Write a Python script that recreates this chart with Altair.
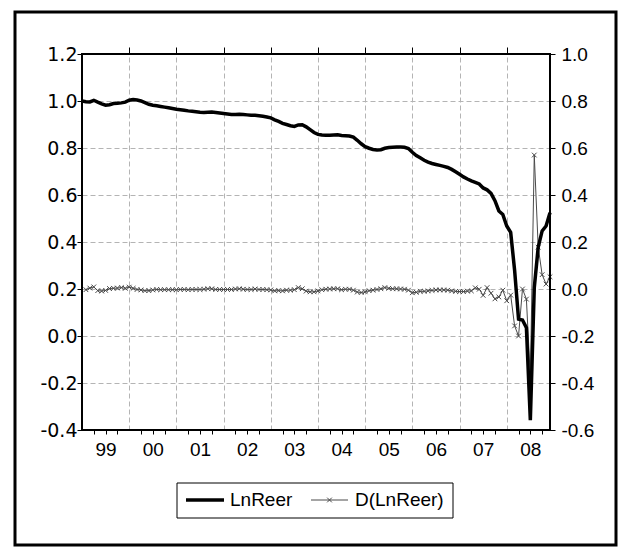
import altair as alt
import pandas as pd

# Monthly sample 1999M01 - 2008M12
year_labels = ["99", "00", "01", "02", "03", "04", "05", "06", "07", "08"]

lnreer_1999 = [1.000, 0.997, 0.996, 1.003, 0.995, 0.988, 0.982, 0.984, 0.989, 0.990, 0.992, 0.995]
lnreer_2000 = [1.003, 1.006, 1.004, 1.000, 0.993, 0.986, 0.982, 0.980, 0.977, 0.974, 0.971, 0.968]
lnreer_2001 = [0.965, 0.963, 0.961, 0.958, 0.956, 0.954, 0.952, 0.951, 0.952, 0.953, 0.951, 0.949]
lnreer_2002 = [0.947, 0.945, 0.943, 0.943, 0.944, 0.943, 0.941, 0.939, 0.939, 0.937, 0.935, 0.932]
lnreer_2003 = [0.928, 0.920, 0.913, 0.905, 0.900, 0.895, 0.892, 0.898, 0.899, 0.890, 0.878, 0.866]
lnreer_2004 = [0.858, 0.855, 0.854, 0.854, 0.855, 0.856, 0.853, 0.852, 0.851, 0.846, 0.833, 0.818]
lnreer_2005 = [0.806, 0.799, 0.794, 0.792, 0.793, 0.799, 0.802, 0.803, 0.804, 0.804, 0.803, 0.798]
lnreer_2006 = [0.782, 0.768, 0.758, 0.748, 0.740, 0.734, 0.730, 0.726, 0.722, 0.717, 0.709, 0.699]
lnreer_2007 = [0.688, 0.677, 0.668, 0.660, 0.654, 0.647, 0.630, 0.622, 0.607, 0.576, 0.532, 0.517]
lnreer_2008 = [0.468, 0.441, 0.280, 0.072, 0.068, 0.035, -0.358, 0.205, 0.378, 0.447, 0.468, 0.525]

d_1999 = [None, -0.003, 0.004, 0.009, -0.007, -0.009, -0.006, 0.002, 0.003, 0.004, 0.006, 0.003]
d_2000 = [0.008, 0.003, -0.002, -0.004, -0.007, -0.007, -0.004, -0.002, -0.003, -0.003, -0.003, -0.003]
d_2001 = [-0.003, -0.002, -0.002, -0.003, -0.002, -0.002, -0.002, -0.001, 0.001, 0.001, -0.002, -0.002]
d_2002 = [-0.002, -0.002, -0.002, 0.000, 0.001, -0.001, -0.002, -0.002, 0.000, -0.002, -0.002, -0.003]
d_2003 = [-0.004, -0.008, -0.007, -0.008, -0.005, -0.005, -0.003, 0.006, 0.001, -0.009, -0.012, -0.012]
d_2004 = [-0.008, -0.003, -0.001, 0.000, 0.001, 0.001, -0.003, -0.001, -0.001, -0.005, -0.013, -0.015]
d_2005 = [-0.012, -0.007, -0.005, -0.002, 0.001, 0.006, 0.003, 0.001, 0.001, 0.000, -0.001, -0.005]
d_2006 = [-0.016, -0.014, -0.010, -0.010, -0.008, -0.006, -0.004, -0.004, -0.004, -0.005, -0.008, -0.010]
d_2007 = [-0.011, -0.011, -0.009, -0.008, 0.005, -0.001, -0.027, 0.006, -0.018, -0.042, -0.034, -0.005]
d_2008 = [-0.050, -0.026, -0.157, -0.200, 0.000, -0.043, -0.377, 0.570, 0.178, 0.061, 0.021, 0.052]

lnreer = (lnreer_1999 + lnreer_2000 + lnreer_2001 + lnreer_2002 + lnreer_2003
          + lnreer_2004 + lnreer_2005 + lnreer_2006 + lnreer_2007 + lnreer_2008)
d_lnreer = (d_1999 + d_2000 + d_2001 + d_2002 + d_2003
            + d_2004 + d_2005 + d_2006 + d_2007 + d_2008)

df = pd.DataFrame({"m": list(range(len(lnreer))), "lnreer": lnreer, "d": d_lnreer})
one = pd.DataFrame({"k": [0]})

FONT = "Liberation Sans"
WIDE_FONT = "DejaVu Sans"
FS = 19
GRID = "#b4b4b4"
XMARK = "M-1,-1L1,1M-1,1L1,-1"
W, H = 468, 376

xscale = alt.Scale(domain=[0, 119], nice=False, zero=False)
label_expr = "datum.value < 0 ? '-' + format(-datum.value, '.1f') : format(datum.value, '.1f')"

# year boundaries: long ticks plus vertical grid
year_axis = alt.Axis(values=list(range(12, 120, 12)), labels=False, tickSize=7,
                     grid=True, gridColor=GRID, gridDash=[5, 3], title=None)
# quarter ticks, with year labels placed at mid-year
quarter_axis = alt.Axis(values=[q for q in range(3, 120, 3) if q % 12 != 0], tickSize=4,
                        grid=False, title=None, labelPadding=6,
                        labelExpr="datum.value % 12 == 6 ? " + str(year_labels) + "[floor(datum.value / 12)] : ''")

left_axis = alt.Axis(orient="left", values=[-0.4, -0.2, 0, 0.2, 0.4, 0.6, 0.8, 1.0, 1.2],
                     labelExpr=label_expr, tickSize=5, labelPadding=0,
                     labelFont=WIDE_FONT, labelFontSize=FS,
                     grid=True, gridColor=GRID, gridDash=[5, 3], title=None)
right_axis = alt.Axis(orient="right", values=[-0.6, -0.4, -0.2, 0, 0.2, 0.4, 0.6, 0.8, 1.0],
                      labelExpr=label_expr, tickSize=5, labelPadding=6, grid=False, title=None)

d_line = alt.Chart(df).mark_line(
    color="#4a4a4a", strokeWidth=1,
    point=alt.OverlayMarkDef(shape=XMARK, size=22, filled=False, stroke="#4a4a4a", strokeWidth=1),
).encode(
    x=alt.X("m:Q", scale=xscale, axis=quarter_axis),
    y=alt.Y("d:Q", scale=alt.Scale(domain=[-0.6, 1.0], nice=False, zero=False), axis=right_axis),
)

level_line = alt.Chart(df).mark_line(color="black", strokeWidth=3.5).encode(
    x=alt.X("m:Q", scale=xscale, axis=year_axis),
    y=alt.Y("lnreer:Q", scale=alt.Scale(domain=[-0.4, 1.2], nice=False, zero=False), axis=left_axis),
)

# plot-area border, drawn above the grid
plot_border = alt.Chart(one).mark_rect(fillOpacity=0, stroke="black", strokeWidth=2).encode(
    x=alt.value(0), x2=alt.value(W), y=alt.value(0), y2=alt.value(H))

# outer graph frame
frame = alt.Chart(one).mark_rect(fillOpacity=0, stroke="black", strokeWidth=3).encode(
    x=alt.value(-67), x2=alt.value(534), y=alt.value(-42), y2=alt.value(491))

# legend
leg_box = alt.Chart(one).mark_rect(fillOpacity=0, stroke="black", strokeWidth=1).encode(
    x=alt.value(95), x2=alt.value(371), y=alt.value(429), y2=alt.value(464))
leg_l1 = alt.Chart(one).mark_rule(color="black", strokeWidth=3.5).encode(
    x=alt.value(104), x2=alt.value(142), y=alt.value(446))
leg_t1 = alt.Chart(one).mark_text(align="left", baseline="middle", font=FONT, fontSize=FS,
                                  color="black").encode(
    x=alt.value(148), y=alt.value(446), text=alt.value("LnReer"))
leg_l2 = alt.Chart(one).mark_rule(color="#4a4a4a", strokeWidth=1).encode(
    x=alt.value(229), x2=alt.value(266), y=alt.value(446))
leg_p2 = alt.Chart(one).mark_point(shape=XMARK, size=22, filled=False, color="#4a4a4a",
                                   strokeWidth=1, opacity=1).encode(
    x=alt.value(247.5), y=alt.value(446))
leg_t2 = alt.Chart(one).mark_text(align="left", baseline="middle", font=FONT, fontSize=FS,
                                  color="black").encode(
    x=alt.value(273), y=alt.value(446), text=alt.value("D(LnReer)"))

chart = alt.layer(
    d_line, level_line, plot_border, frame, leg_box, leg_l1, leg_t1, leg_l2, leg_p2, leg_t2
).resolve_scale(
    x="independent", y="independent"
).resolve_axis(
    x="independent", y="independent"
).properties(
    width=W, height=H,
    autosize=alt.AutoSizeParams(type="none"),
    padding={"left": 82, "top": 54, "right": 71, "bottom": 117},
    background="white",
).configure_view(
    strokeWidth=0
).configure_axis(
    labelFont=FONT, labelFontSize=FS, labelColor="black",
    tickColor="black", tickWidth=1, domain=False,
)

chart.save("out.html", embed_options={"renderer": "svg", "actions": False})
